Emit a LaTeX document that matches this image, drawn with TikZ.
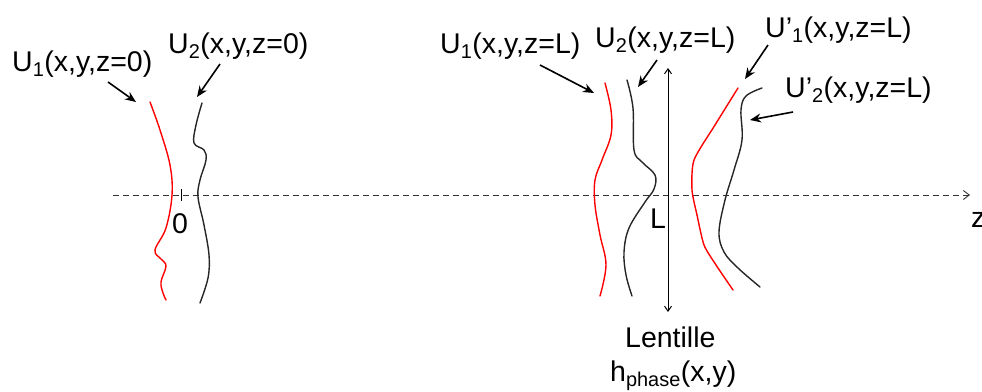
\documentclass[tikz,border=0pt]{standalone}
\usepackage{fontspec}
\setmainfont{Liberation Sans}
\usetikzlibrary{arrows.meta}
\begin{document}
\begin{tikzpicture}[x=1pt,y=-1pt,
  lbl/.style={font=\fontsize{28.5}{32}\selectfont, inner sep=0pt, anchor=base west},
  wave/.style={line width=1.4pt, line cap=round, line join=round},
  redwave/.style={wave, draw=red},
  blackwave/.style={wave, draw=black!85},
  ptr/.style={line width=1.6pt, -{Stealth[length=11pt,width=9pt]}},
  axis/.style={line width=0.9pt, draw=black!80, dash pattern=on 6pt off 4pt, -{Straight Barb[length=6pt,width=9pt]}},
  lens/.style={line width=1pt, {Straight Barb[length=5pt,width=7pt]}-{Straight Barb[length=5pt,width=7pt]}},
]
\useasboundingbox (0,0) rectangle (982,391);

% optical axis
\coordinate (axS) at (113,195);
\coordinate (axE) at (970,195);
\draw[axis] (axS) -- (axE);
\node[lbl] (z) at (971,227) {z};

% origin tick
\coordinate (o1) at (181,189);
\coordinate (o2) at (181,201);
\draw[line width=0.9pt] (o1) -- (o2);
\node[lbl] (zero) at (172,233) {0};

% fields at z=0
\draw[redwave] plot[smooth, tension=0.6] coordinates {(150,102) (160,130) (170,165) (172,195) (166,228) (155,250) (161,259) (166,266) (161,282) (163,293) (166,300)};
\draw[blackwave] plot[smooth, tension=0.6] coordinates {(202,103) (196,125) (194,143) (204,150) (206,160) (200,180) (198,197) (204,225) (209,255) (208,278) (200,303)};

\node[lbl] (u1a) at (12,71) {U\textsubscript{1}(x,y,z=0)};
\node[lbl] (u2a) at (168,53) {U\textsubscript{2}(x,y,z=0)};
\coordinate (u1aS) at (108,82);
\coordinate (u1aE) at (136,102);
\coordinate (u2aS) at (220,64);
\coordinate (u2aE) at (197,97);
\draw[ptr] (u1aS) -- (u1aE);
\draw[ptr] (u2aS) -- (u2aE);

% fields at z=L
\draw[redwave] plot[smooth, tension=0.6] coordinates {(605,83) (611,110) (611,135) (602,160) (595,180) (595,205) (600,235) (606,265) (600,296)};
\draw[blackwave] plot[smooth, tension=0.6] coordinates {(627,80) (633,108) (634,150) (642,162) (655,175) (654,189) (645,202) (629,228) (624,252) (626,275) (632,296)};

% lens
\coordinate (lensT) at (668,68);
\coordinate (lensB) at (668,312);
\draw[lens] (lensT) -- (lensB);
\node[lbl] (Lz) at (650,228) {L};

% fields after lens
\draw[redwave] plot[smooth, tension=0.4] coordinates {(738,88) (715,125) (694,160) (692,190) (697,215) (704,245) (716,265) (733,290)};
\draw[blackwave] plot[smooth, tension=0.6] coordinates {(762,88) (746,96) (741,110) (742,140) (734,170) (725,200) (719,232) (724,252) (738,268) (760,287)};

\node[lbl] (u1b) at (440,53) {U\textsubscript{1}(x,y,z=L)};
\node[lbl] (u2b) at (595,47) {U\textsubscript{2}(x,y,z=L)};
\node[lbl] (u1c) at (765,37) {U’\textsubscript{1}(x,y,z=L)};
\node[lbl] (u2c) at (785,97) {U’\textsubscript{2}(x,y,z=L)};

\coordinate (u1bS) at (540,65);
\coordinate (u1bE) at (594,93);
\coordinate (u2bS) at (657,60);
\coordinate (u2bE) at (638,87);
\coordinate (u1cS) at (768,45);
\coordinate (u1cE) at (745,79);
\coordinate (u2cS) at (793,112);
\coordinate (u2cE) at (750,120);
\draw[ptr] (u1bS) -- (u1bE);
\draw[ptr] (u2bS) -- (u2bE);
\draw[ptr] (u1cS) -- (u1cE);
\draw[ptr] (u2cS) -- (u2cE);

\node[lbl] (lentille) at (625,347) {Lentille};
\node[lbl] (hphase) at (610,381) {h\textsubscript{phase}(x,y)};
\end{tikzpicture}
\end{document}
